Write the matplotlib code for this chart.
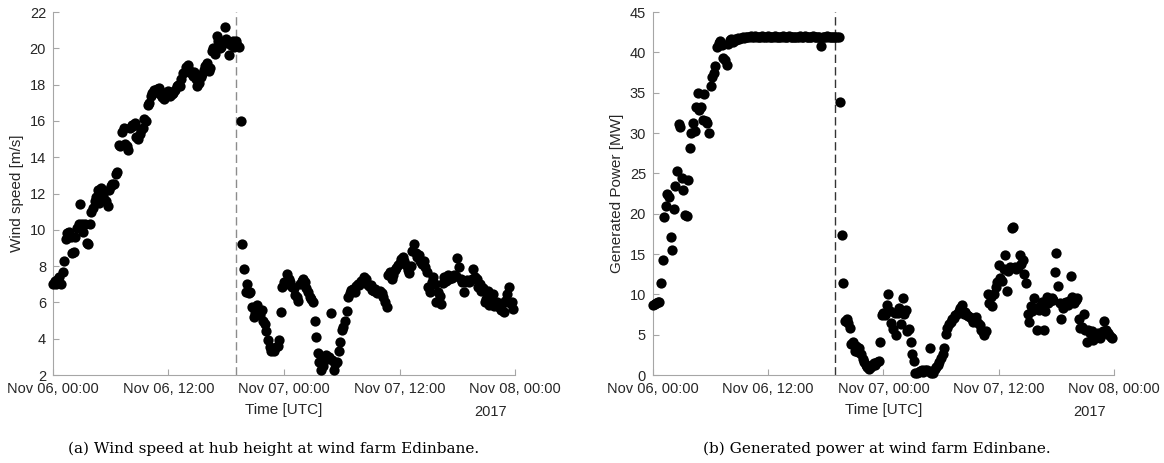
import numpy as np
import pandas as pd
import matplotlib
matplotlib.use('Agg')
import matplotlib.pyplot as plt
import matplotlib.dates as mdates

plt.rcParams['font.family'] = ['Liberation Sans', 'DejaVu Sans']

# 10-minute samples, Nov 06 00:00 - Nov 07 23:50 (one row per hour)
wind = [
    7.0, 7.2, 7.0, 7.3, 7.4, 7.0,
    7.7, 8.3, 9.5, 9.8, 9.9, 9.6,
    8.7, 8.8, 9.6, 10.1, 10.3, 11.4,
    10.3, 9.9, 10.3, 9.3, 9.2, 10.3,
    11.0, 11.2, 11.6, 11.8, 12.2, 11.5,
    12.3, 12.0, 11.7, 11.6, 11.3, 12.2,
    12.4, 12.5, 12.5, 13.1, 13.2, 14.7,
    14.6, 15.4, 15.6, 14.75, 14.6, 14.4,
    15.6, 15.8, 15.7, 15.9, 15.1, 15.0,
    15.3, 15.5, 15.6, 16.1, 16.0, 16.9,
    17.0, 17.4, 17.55, 17.7, 17.6, 17.75,
    17.8, 17.5, 17.3, 17.2, 17.3, 17.6,
    17.65, 17.4, 17.5, 17.55, 17.7, 17.9,
    18.0, 17.9, 18.3, 18.65, 18.7, 18.95,
    19.1, 18.8, 18.65, 18.5, 18.7, 18.3,
    17.9, 18.1, 18.4, 18.6, 18.8, 19.0,
    19.2, 18.75, 18.9, 19.85, 20.0, 19.7,
    20.7, 20.4, 20.0, 20.1, 20.3, 21.2,
    20.5, 20.3, 19.65, 20.2, 20.4, 20.1,
    20.4, 20.2, 20.1, 16.0, 9.2, 7.85,
    6.6, 7.0, 6.5, 6.6, 5.75, 5.2,
    5.4, 5.85, 5.5, 5.3, 5.6, 4.95,
    4.8, 4.4, 3.95, 3.55, 3.3, 3.4,
    3.3, 3.55, 3.6, 3.95, 5.5, 6.85,
    7.1, 7.0, 7.55, 7.3, 7.1, 6.85,
    6.8, 6.4, 6.3, 6.1, 7.0, 7.2,
    7.3, 7.1, 6.8, 6.6, 6.3, 6.2,
    6.0, 5.0, 4.1, 3.2, 2.7, 2.25,
    2.5, 3.0, 3.1, 2.9, 3.0, 5.4,
    2.85, 2.25, 2.6, 2.7, 3.3, 3.8,
    4.5, 4.65, 5.0, 5.55, 6.3, 6.5,
    6.7, 6.75, 6.6, 6.9, 7.0, 6.95,
    7.2, 7.15, 7.4, 7.3, 7.0, 6.9,
    6.95, 6.7, 6.65, 6.75, 6.5, 6.6,
    6.65, 6.5, 6.3, 6.0, 5.75, 7.5,
    7.7, 7.3, 7.5, 7.8, 7.9, 8.05,
    8.2, 8.4, 8.5, 8.3, 8.05, 7.8,
    7.6, 8.0, 8.85, 9.2, 8.7, 8.5,
    8.6, 8.3, 8.1, 8.3, 7.95, 7.7,
    6.85, 6.6, 7.15, 7.4, 7.0, 6.0,
    6.6, 6.35, 5.9, 7.05, 7.4, 7.2,
    7.5, 7.3, 7.4, 7.35, 7.5, 7.45,
    8.45, 7.95, 7.3, 7.1, 6.6, 7.15,
    7.25, 7.1, 7.2, 7.3, 7.85, 7.4,
    7.3, 6.85, 7.0, 6.65, 6.8, 6.0,
    6.2, 6.65, 5.85, 6.3, 6.45, 5.8,
    5.95, 6.0, 5.75, 5.6, 5.9, 5.5,
    6.1, 6.45, 6.85, 5.95, 6.0, 5.65,
]

power = [
    8.7, 8.8, 8.9, 9.0, 9.1, 11.4,
    14.2, 19.6, 21.0, 22.5, 22.1, 17.1,
    15.5, 20.6, 23.45, 25.3, 31.1, 30.8,
    24.4, 23.0, 19.8, 19.7, 24.2, 28.2,
    30.0, 31.3, 30.3, 33.25, 35.0, 32.8,
    33.2, 31.6, 34.8, 31.5, 31.3, 30.0,
    35.8, 37.0, 37.5, 38.3, 40.7, 41.2,
    41.35, 40.9, 39.3, 39.0, 38.4, 41.0,
    41.5, 41.7, 41.3, 41.6, 41.5, 41.8,
    41.7, 41.8, 41.9, 41.8, 41.9, 41.9,
    41.9, 42.0, 41.9, 41.9, 42.0, 41.9,
    41.9, 41.9, 42.0, 41.9, 41.9, 41.9,
    42.0, 41.9, 41.9, 41.9, 42.0, 41.9,
    41.9, 41.9, 41.9, 42.0, 41.9, 41.9,
    41.9, 42.0, 41.9, 41.9, 41.9, 41.9,
    41.9, 41.9, 42.0, 41.9, 41.9, 42.0,
    41.9, 41.9, 41.9, 41.9, 42.0, 41.9,
    41.9, 41.9, 41.9, 40.8, 41.9, 41.9,
    41.9, 42.0, 41.9, 41.9, 41.9, 41.9,
    41.9, 41.9, 41.9, 33.9, 17.35, 11.35,
    6.7, 6.9, 6.4, 5.8, 3.9, 4.1,
    3.0, 3.6, 2.8, 3.3, 2.6, 2.0,
    1.6, 1.2, 1.0, 0.8, 1.0, 1.3,
    1.5, 1.3, 1.65, 1.8, 4.05, 7.45,
    7.7, 7.4, 8.7, 10.1, 7.95, 6.5,
    5.7, 7.7, 4.95, 7.7, 8.3, 6.3,
    9.5, 7.6, 8.0, 5.5, 5.7, 4.1,
    2.6, 1.8, 0.2, 0.3, 0.4, 0.5,
    0.6, 0.4, 0.6, 0.6, 0.5, 3.4,
    0.2, 0.3, 0.8, 1.0, 1.3, 1.6,
    2.05, 2.6, 3.4, 5.05, 5.85, 6.3,
    6.6, 6.9, 7.1, 7.4, 7.6, 7.9,
    8.3, 8.65, 7.6, 7.8, 7.4, 7.3,
    7.2, 6.9, 6.6, 7.0, 7.2, 6.4,
    6.2, 5.6, 5.3, 5.0, 5.4, 10.1,
    8.9, 9.7, 8.5, 10.1, 10.95, 11.5,
    13.6, 12.0, 11.7, 13.2, 14.9, 10.4,
    12.9, 13.4, 18.2, 18.3, 13.4, 13.1,
    13.4, 14.9, 13.8, 14.2, 12.5, 11.4,
    7.6, 6.6, 8.6, 7.9, 9.5, 8.3,
    5.6, 8.0, 8.6, 9.0, 5.6, 7.9,
    9.7, 8.9, 9.2, 9.5, 9.3, 12.8,
    15.1, 11.0, 8.9, 7.0, 8.3, 8.9,
    9.0, 8.7, 9.2, 12.3, 9.7, 8.9,
    9.3, 9.6, 7.0, 5.8, 6.0, 7.6,
    5.6, 4.1, 5.6, 5.2, 5.5, 4.4,
    5.0, 4.8, 5.2, 4.6, 5.0, 5.4,
    6.7, 5.6, 5.2, 5.0, 4.7, 4.65,
]

times = pd.date_range('2017-11-06 00:00', periods=len(wind), freq='10min')
event = pd.Timestamp('2017-11-06 19:00')
t0 = pd.Timestamp('2017-11-06 00:00')
t1 = pd.Timestamp('2017-11-08 00:00')

txt = '#262626'
axcol = '#a6a6a6'

fig = plt.figure(figsize=(11.64, 4.63), dpi=100)
ax1 = fig.add_axes([0.0455, 0.190, 0.397, 0.784])
ax2 = fig.add_axes([0.561, 0.190, 0.396, 0.784])

panels = [
    (ax1, wind, (2, 22), np.arange(2, 23, 2), 'Wind speed [m/s]', '#8c8c8c'),
    (ax2, power, (0, 45), np.arange(0, 46, 5), 'Generated Power [MW]', '#333333'),
]

for ax, vals, ylim, yt, ylab, dcol in panels:
    ax.plot(times, vals, 'o', color='black', markersize=7.4, markeredgewidth=0,
            clip_on=False, zorder=3)
    ax.axvline(event, color=dcol, linestyle=(0, (6, 3)), linewidth=1.0)
    ax.set_xlim(t0, t1)
    ax.set_ylim(*ylim)
    ax.set_yticks(yt)
    ax.xaxis.set_major_locator(mdates.HourLocator(byhour=[0, 12]))
    ax.xaxis.set_major_formatter(mdates.DateFormatter('%b %d, %H:%M'))
    for s in ['top', 'right']:
        ax.spines[s].set_visible(False)
    for s in ['left', 'bottom']:
        ax.spines[s].set_color(axcol)
    ax.tick_params(direction='in', length=4, color=axcol, labelcolor=txt,
                   labelsize=10.5, pad=5)
    ax.set_ylabel(ylab, fontsize=11, color=txt, labelpad=4)
    ax.set_xlabel('Time [UTC]', fontsize=11, color=txt, labelpad=5)
    ax.annotate('2017', xy=(t1, 0), xycoords=('data', 'axes fraction'),
                xytext=(-41, -37), textcoords='offset pixels',
                ha='left', va='center', fontsize=10.5, color=txt)

fig.text(274 / 1164, 1 - 449 / 463,
         '(a) Wind speed at hub height at wind farm Edinbane.',
         ha='center', va='center', fontsize=11, family='DejaVu Serif')
fig.text(877 / 1164, 1 - 449 / 463,
         '(b) Generated power at wind farm Edinbane.',
         ha='center', va='center', fontsize=11, family='DejaVu Serif')

fig.savefig('out.png', dpi=100)
